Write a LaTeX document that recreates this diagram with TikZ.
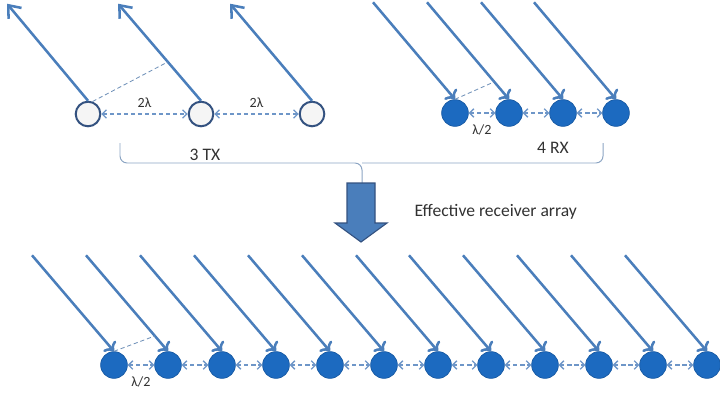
\documentclass[tikz,border=0pt]{standalone}
\usepackage{fontspec}
\setmainfont{Carlito}
\usepackage{tikz}
\usetikzlibrary{arrows.meta}
\definecolor{raycol}{RGB}{74,126,187}
\definecolor{rxcol}{RGB}{28,106,192}
\definecolor{txline}{RGB}{52,82,128}
\definecolor{gapcol}{RGB}{110,150,200}
\definecolor{bracecol}{RGB}{140,165,195}
\definecolor{textcol}{RGB}{50,50,50}
\tikzstyle{ant}=[circle, inner sep=0pt, minimum size=19pt]
\tikzstyle{txant}=[ant, draw=txline, line width=1.4pt, fill=gray!8, minimum size=17.5pt]
\tikzstyle{rxant}=[ant, draw=rxcol!85!black, line width=0.5pt, fill=rxcol]
\tikzstyle{ray}=[raycol, line width=1.8pt, -{Straight Barb[length=7.5pt, width=12pt]}]
\tikzstyle{gap}=[gapcol, line width=0.9pt, dash pattern=on 3pt off 2pt, {Straight Barb[length=3pt, width=6pt]}-{Straight Barb[length=3pt, width=6pt]}]
\tikzstyle{phase}=[gapcol!80!gray, line width=0.6pt, dash pattern=on 3pt off 2pt]
\tikzstyle{lbl}=[inner sep=1pt, text=textcol, font=\fontsize{10}{12}\selectfont]
\tikzstyle{txt}=[inner sep=1pt, text=textcol, font=\fontsize{12.5}{15}\selectfont]

\begin{document}
\begin{tikzpicture}[x=0.025cm, y=-0.025cm]
        \useasboundingbox (0, 0) rectangle (720, 400);
        % transmitters
        \node[txant] (T1) at (88, 114) {};
        \node[txant] (T2) at (201, 114) {};
        \node[txant] (T3) at (312, 114) {};
        \draw[ray] (T1.north) -- +(-81, -97);
        \draw[ray] (T2.north) -- +(-83, -97) coordinate[pos=0.4] (T2m);
        \draw[ray] (T3.north) -- +(-82, -97);
        \draw[phase] (T1.70) -- (T2m);
        \draw[gap] (T1) -- (T2) node[lbl, midway, above=3pt] {2λ};
        \draw[gap] (T2) -- (T3) node[lbl, midway, above=3pt] {2λ};
        % receivers
        \node[rxant] (R1) at (455, 113) {};
        \node[rxant] (R2) at (509, 113) {};
        \node[rxant] (R3) at (563, 113) {};
        \node[rxant] (R4) at (616, 113) {};
        \draw[ray, <-] (R1.north) -- +(-82, -97);
        \draw[ray, <-] (R2.north) -- +(-82, -97) coordinate[pos=0.18] (R2m);
        \draw[ray, <-] (R3.north) -- +(-82, -97);
        \draw[ray, <-] (R4.north) -- +(-82, -97);
        \draw[phase] (R1.north) -- (R2m);
        \draw[gap] (R1) -- (R2) node[lbl, midway, below=7pt] {λ/2};
        \draw[gap] (R2) -- (R3);
        \draw[gap] (R3) -- (R4);
        % brace and labels
        \draw[bracecol, line width=0.7pt, rounded corners=5]
            (120, 143) -- (120, 163) -- (362, 163) -- (362, 183);
        \draw[bracecol, line width=0.7pt, rounded corners=5]
            (603, 143) -- (603, 163) -- (362, 163);
        \node[txt] (ntx) at (205, 155) {3 TX};
        \node[txt] (nrx) at (553, 148) {4 RX};
        % big arrow
        \filldraw[fill=raycol, draw=txline, line width=0.8pt]
            (347, 183) -- (375, 183) -- (375, 223) -- (387, 223) -- (361, 242)
            -- (335, 223) -- (347, 223) -- cycle;
        \node[txt, anchor=west] (neff) at (413, 212) {Effective receiver array};
        % virtual array
        \node[rxant] (V1) at (114, 365) {};
        \node[rxant] (V2) at (168, 365) {};
        \node[rxant] (V3) at (222, 365) {};
        \node[rxant] (V4) at (276, 365) {};
        \node[rxant] (V5) at (330, 365) {};
        \node[rxant] (V6) at (384, 365) {};
        \node[rxant] (V7) at (438, 365) {};
        \node[rxant] (V8) at (491, 365) {};
        \node[rxant] (V9) at (545, 365) {};
        \node[rxant] (V10) at (599, 365) {};
        \node[rxant] (V11) at (653, 365) {};
        \node[rxant] (V12) at (707, 365) {};
        \draw[ray, <-] (V1.north) -- +(-82, -96);
        \draw[ray, <-] (V2.north) -- +(-82, -96) coordinate[pos=0.16] (V2m);
        \draw[ray, <-] (V3.north) -- +(-82, -96);
        \draw[ray, <-] (V4.north) -- +(-82, -96);
        \draw[ray, <-] (V5.north) -- +(-82, -96);
        \draw[ray, <-] (V6.north) -- +(-82, -96);
        \draw[ray, <-] (V7.north) -- +(-82, -96);
        \draw[ray, <-] (V8.north) -- +(-82, -96);
        \draw[ray, <-] (V9.north) -- +(-82, -96);
        \draw[ray, <-] (V10.north) -- +(-82, -96);
        \draw[ray, <-] (V11.north) -- +(-82, -96);
        \draw[ray, <-] (V12.north) -- +(-82, -96);
        \draw[phase] (V1.north) -- (V2m);
        \draw[gap] (V1) -- (V2) node[lbl, midway, below=7pt] {λ/2};
        \draw[gap] (V2) -- (V3);
        \draw[gap] (V3) -- (V4);
        \draw[gap] (V4) -- (V5);
        \draw[gap] (V5) -- (V6);
        \draw[gap] (V6) -- (V7);
        \draw[gap] (V7) -- (V8);
        \draw[gap] (V8) -- (V9);
        \draw[gap] (V9) -- (V10);
        \draw[gap] (V10) -- (V11);
        \draw[gap] (V11) -- (V12);
    \end{tikzpicture}
\end{document}
